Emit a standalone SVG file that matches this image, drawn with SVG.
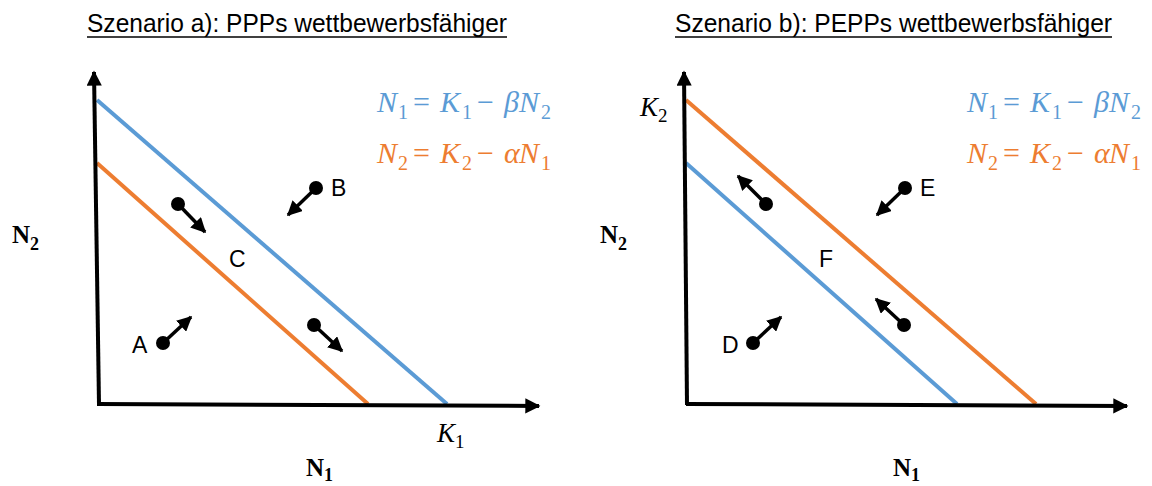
<svg xmlns="http://www.w3.org/2000/svg" width="1152" height="486" viewBox="0 0 1152 486">
<defs>
<style>
.title{font-family:"Liberation Sans",Arial,sans-serif;font-size:26px;fill:#000}
.ul{stroke:#000;stroke-width:1.6}
.axis{stroke:#000;stroke-width:4;fill:none}
.blue{stroke:#5B9BD5;stroke-width:4;fill:none}
.orange{stroke:#ED7D31;stroke-width:4;fill:none}
.eq{font-family:"Liberation Serif","DejaVu Serif",serif;font-size:30px;font-style:italic}
.sub{font-style:normal;font-size:20px}
.up{font-style:normal}
.ax{font-family:"Liberation Serif","DejaVu Serif",serif;font-size:25px;font-weight:bold;fill:#000}
.axsub{font-size:18px}
.lbl{font-family:"Liberation Sans",Arial,sans-serif;font-size:23px;fill:#000}
.k{font-family:"Liberation Serif","DejaVu Serif",serif;font-size:27px;font-style:italic;fill:#000}
.dot{fill:#000}
.mv{stroke:#000;stroke-width:3.5;fill:none}
</style>
<marker id="ah" viewBox="0 0 10 10" refX="9" refY="5" markerWidth="4.3" markerHeight="4.3" orient="auto" markerUnits="strokeWidth">
<path d="M0,0 L10,5 L0,10 z" fill="#000"/>
</marker>
<marker id="axh" viewBox="0 0 10 10" refX="9" refY="5" markerWidth="3.8" markerHeight="3.8" orient="auto" markerUnits="strokeWidth">
<path d="M0,0 L10,5 L0,10 z" fill="#000"/>
</marker>
</defs>

<g id="panel-a">
<g id="title-a">
<text class="title" x="87" y="32" textLength="420" lengthAdjust="spacingAndGlyphs">Szenario a): PPPs wettbewerbsfähiger</text>
<line class="ul" x1="87" y1="37" x2="507" y2="37"/>
</g>
<g id="eq-a">
<text class="eq" fill="#5B9BD5" y="112"><tspan x="377">N</tspan><tspan class="sub" x="398" y="119">1</tspan><tspan class="up" x="413" y="112">=</tspan><tspan x="440">K</tspan><tspan class="sub" x="462" y="119">1</tspan><tspan class="up" x="477" y="112">−</tspan><tspan x="504">β</tspan><tspan x="519">N</tspan><tspan class="sub" x="541" y="119">2</tspan></text>
<text class="eq" fill="#ED7D31" y="163"><tspan x="377">N</tspan><tspan class="sub" x="398" y="170">2</tspan><tspan class="up" x="413" y="163">=</tspan><tspan x="440">K</tspan><tspan class="sub" x="462" y="170">2</tspan><tspan class="up" x="477" y="163">−</tspan><tspan x="504">α</tspan><tspan x="519">N</tspan><tspan class="sub" x="541" y="170">1</tspan></text>
</g>
<g id="lines-a">
<line class="blue" x1="97" y1="100" x2="447" y2="404"/>
<line class="orange" x1="97" y1="163" x2="368" y2="404"/>
</g>
<g id="axes-a">
<path class="axis" d="M99,404 L94,72" marker-end="url(#axh)"/>
<path class="axis" d="M97,404 L539,406" marker-end="url(#axh)"/>
<text class="ax" x="12" y="243">N<tspan class="axsub" dy="7">2</tspan></text>
<text class="ax" x="306" y="476">N<tspan class="axsub" dy="5">1</tspan></text>
<text class="k" x="437" y="442">K<tspan class="up" font-size="19" dy="6">1</tspan></text>
</g>
<g id="A">
<circle class="dot" cx="163" cy="343" r="7"/>
<line class="mv" x1="163" y1="343" x2="191" y2="317" marker-end="url(#ah)"/>
<text class="lbl" x="132" y="353">A</text>
</g>
<g id="B">
<circle class="dot" cx="316" cy="188" r="7"/>
<line class="mv" x1="316" y1="188" x2="288" y2="215" marker-end="url(#ah)"/>
<text class="lbl" x="331" y="196">B</text>
</g>
<g id="C">
<text class="lbl" x="229" y="267">C</text>
<circle class="dot" cx="178" cy="204" r="7"/>
<line class="mv" x1="178" y1="204" x2="205" y2="232" marker-end="url(#ah)"/>
<circle class="dot" cx="314" cy="325" r="7"/>
<line class="mv" x1="314" y1="325" x2="342" y2="351" marker-end="url(#ah)"/>
</g>
</g>

<g id="panel-b">
<g id="title-b">
<text class="title" x="675" y="32" textLength="437" lengthAdjust="spacingAndGlyphs">Szenario b): PEPPs wettbewerbsfähiger</text>
<line class="ul" x1="675" y1="37" x2="1112" y2="37"/>
</g>
<g id="eq-b">
<text class="eq" fill="#5B9BD5" y="112"><tspan x="967">N</tspan><tspan class="sub" x="988" y="119">1</tspan><tspan class="up" x="1003" y="112">=</tspan><tspan x="1030">K</tspan><tspan class="sub" x="1052" y="119">1</tspan><tspan class="up" x="1067" y="112">−</tspan><tspan x="1094">β</tspan><tspan x="1109">N</tspan><tspan class="sub" x="1131" y="119">2</tspan></text>
<text class="eq" fill="#ED7D31" y="163"><tspan x="967">N</tspan><tspan class="sub" x="988" y="170">2</tspan><tspan class="up" x="1003" y="163">=</tspan><tspan x="1030">K</tspan><tspan class="sub" x="1052" y="170">2</tspan><tspan class="up" x="1067" y="163">−</tspan><tspan x="1094">α</tspan><tspan x="1109">N</tspan><tspan class="sub" x="1131" y="170">1</tspan></text>
</g>
<g id="lines-b">
<line class="orange" x1="686" y1="100" x2="1036" y2="404"/>
<line class="blue" x1="686" y1="163" x2="957" y2="404"/>
</g>
<g id="axes-b">
<path class="axis" d="M687,405 L684,72" marker-end="url(#axh)"/>
<path class="axis" d="M686,404 L1127,406" marker-end="url(#axh)"/>
<text class="ax" x="600" y="243">N<tspan class="axsub" dy="7">2</tspan></text>
<text class="ax" x="893" y="476">N<tspan class="axsub" dy="5">1</tspan></text>
<text class="k" x="640" y="116">K<tspan class="up" font-size="19" dy="6">2</tspan></text>
</g>
<g id="D">
<circle class="dot" cx="753" cy="343" r="7"/>
<line class="mv" x1="753" y1="343" x2="781" y2="317" marker-end="url(#ah)"/>
<text class="lbl" x="722" y="353">D</text>
</g>
<g id="E">
<circle class="dot" cx="905" cy="188" r="7"/>
<line class="mv" x1="905" y1="188" x2="877" y2="215" marker-end="url(#ah)"/>
<text class="lbl" x="920" y="196">E</text>
</g>
<g id="F">
<text class="lbl" x="819" y="267">F</text>
<circle class="dot" cx="766" cy="204" r="7"/>
<line class="mv" x1="766" y1="204" x2="738" y2="176" marker-end="url(#ah)"/>
<circle class="dot" cx="904" cy="325" r="7"/>
<line class="mv" x1="904" y1="325" x2="876" y2="299" marker-end="url(#ah)"/>
</g>
</g>
</svg>
